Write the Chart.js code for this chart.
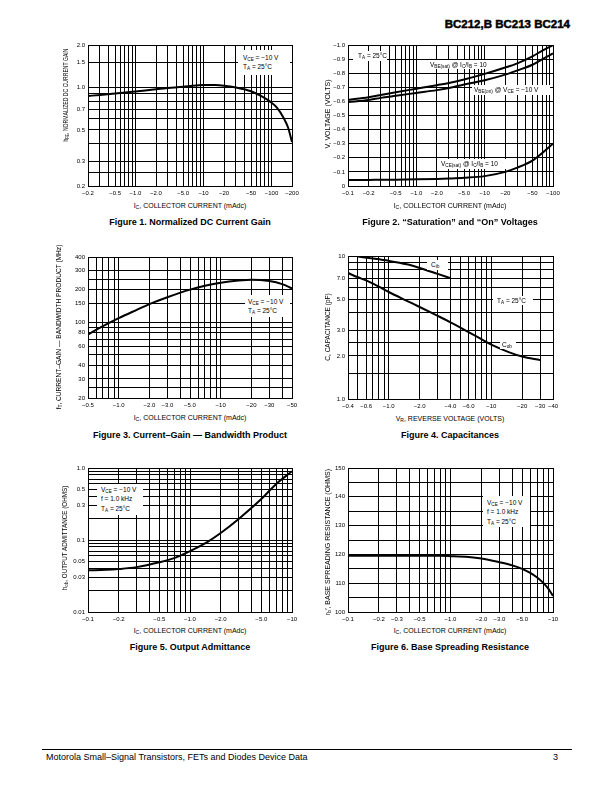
<!DOCTYPE html>
<html>
<head>
<meta charset="utf-8">
<script src="https://cdn.jsdelivr.net/npm/chart.js@4.4.1/dist/chart.umd.min.js"></script>
<style>
  body { margin: 0; width: 612px; height: 792px; position: relative; overflow: hidden; background: #fff; color: #000; font-family: "Liberation Sans", Arial, sans-serif; }
  canvas, .t, .note { position: absolute; }
  .t { white-space: nowrap; line-height: 1; }
  .xt { transform: translate(-50%, -50%); font-size: 7px; }
  .yt { transform: translate(-50%, -50%) rotate(-90deg); }
  .cap { transform: translate(-50%, -50%); font-size: 9px; font-weight: bold; }
  .note { background: #fff; font-size: 6.5px; line-height: 9.4px; white-space: nowrap; box-sizing: border-box; }
  sub { font-size: 0.72em; vertical-align: -0.3em; line-height: 0; }
  .head { right: 42px; top: 19px; font-size: 11.5px; font-weight: bold; -webkit-text-stroke: 0.5px #000; }
  .rule { left: 42px; top: 749px; width: 530px; height: 0; border-top: 1px solid #000; }
  .foot { top: 753px; font-size: 9px; }
</style>
</head>
<body>
<div class="t head">BC212,B BC213 BC214</div>

<canvas id="c1"></canvas>
<canvas id="c2"></canvas>
<canvas id="c3"></canvas>
<canvas id="c4"></canvas>
<canvas id="c5"></canvas>
<canvas id="c6"></canvas>

<!-- figure 1 -->
<div class="note" style="left:238px;top:50px;width:52px;height:25px;padding:3px 0 0 5px">V<sub>CE</sub> = −10 V<br>T<sub>A</sub> = 25°C</div>
<div class="t yt" style="left:66px;top:95px;font-size:6.4px;transform:translate(-50%,-50%) rotate(-90deg) scaleX(0.8)">h<sub>FE</sub>, NORMALIZED DC CURRENT GAIN</div>
<div class="t xt" style="left:190px;top:205px">I<sub>C</sub>, COLLECTOR CURRENT (mAdc)</div>
<div class="t cap" style="left:190px;top:222px">Figure 1. Normalized DC Current Gain</div>

<!-- figure 2 -->
<div class="note" style="left:353px;top:51px;width:34px;height:10px;padding:0 0 0 5px">T<sub>A</sub> = 25°C</div>
<div class="note" style="left:427px;top:60px;width:70px;height:9px;padding:0 0 0 3px">V<sub>BE(sat)</sub> @ I<sub>C</sub>/I<sub>B</sub> = 10</div>
<div class="note" style="left:472px;top:85px;width:78px;height:10px;padding:0 0 0 2px">V<sub>BE(on)</sub> @ V<sub>CE</sub> = −10 V</div>
<div class="note" style="left:438px;top:159px;width:72px;height:10px;padding:0 0 0 3px">V<sub>CE(sat)</sub> @ I<sub>C</sub>/I<sub>B</sub> = 10</div>
<div class="t yt" style="left:327px;top:114px;font-size:7px">V, VOLTAGE (VOLTS)</div>
<div class="t xt" style="left:450px;top:205px">I<sub>C</sub>, COLLECTOR CURRENT (mAdc)</div>
<div class="t cap" style="left:450px;top:222px">Figure 2. “Saturation” and “On” Voltages</div>

<!-- figure 3 -->
<div class="note" style="left:245px;top:295px;width:45px;height:22px;padding:2px 0 0 3px">V<sub>CE</sub> = −10 V<br>T<sub>A</sub> = 25°C</div>
<div class="t yt" style="left:59px;top:327px;font-size:6.6px">f<sub>T</sub>, CURRENT–GAIN — BANDWIDTH PRODUCT (MHz)</div>
<div class="t xt" style="left:190px;top:417px">I<sub>C</sub>, COLLECTOR CURRENT (mAdc)</div>
<div class="t cap" style="left:190px;top:435px">Figure 3. Current–Gain — Bandwidth Product</div>

<!-- figure 4 -->
<div class="note" style="left:427px;top:260px;width:21px;height:10px;padding:0 0 0 4px">C<sub>ib</sub></div>
<div class="note" style="left:493px;top:296px;width:40px;height:9px;padding:0 0 0 4px">T<sub>A</sub> = 25°C</div>
<div class="note" style="left:500px;top:340px;width:16px;height:9px;padding:0 0 0 2px">C<sub>ob</sub></div>
<div class="t yt" style="left:328px;top:327px;font-size:6.5px">C, CAPACITANCE (pF)</div>
<div class="t xt" style="left:450px;top:418px">V<sub>R</sub>, REVERSE VOLTAGE (VOLTS)</div>
<div class="t cap" style="left:450px;top:435px">Figure 4. Capacitances</div>

<!-- figure 5 -->
<div class="note" style="left:97px;top:484px;width:46px;height:31px;padding:1px 0 0 4px">V<sub>CE</sub> = −10 V<br>f = 1.0 kHz<br>T<sub>A</sub> = 25°C</div>
<div class="t yt" style="left:65px;top:538px;font-size:6.3px">h<sub>ob</sub>, OUTPUT ADMITTANCE (OHMS)</div>
<div class="t xt" style="left:190px;top:630px">I<sub>C</sub>, COLLECTOR CURRENT (mAdc)</div>
<div class="t cap" style="left:190px;top:647px">Figure 5. Output Admittance</div>

<!-- figure 6 -->
<div class="note" style="left:483px;top:496px;width:47px;height:31px;padding:2px 0 0 4px">V<sub>CE</sub> = −10 V<br>f = 1.0 kHz<br>T<sub>A</sub> = 25°C</div>
<div class="t yt" style="left:327px;top:542px;font-size:7px">r<sub>b</sub>′, BASE SPREADING RESISTANCE (OHMS)</div>
<div class="t xt" style="left:450px;top:630px">I<sub>C</sub>, COLLECTOR CURRENT (mAdc)</div>
<div class="t cap" style="left:450px;top:647px">Figure 6. Base Spreading Resistance</div>

<div class="t rule"></div>
<div class="t foot" style="left:46px">Motorola Small–Signal Transistors, FETs and Diodes Device Data</div>
<div class="t foot" style="left:553px">3</div>

<script>
// Figure 1 – normalized DC current gain vs collector current
const f1Ic = [0.2, 0.3, 0.5, 0.7, 1, 1.5, 2, 3, 5, 7, 10, 15, 20, 30, 50, 70, 100, 120, 150, 175, 200];
const f1Hfe = [0.87, 0.885, 0.905, 0.92, 0.935, 0.955, 0.97, 0.99, 1.01, 1.03, 1.04, 1.04, 1.03, 1.0, 0.94, 0.87, 0.78, 0.72, 0.61, 0.52, 0.41];
const f1XTicks = [0.2, 0.5, 1, 2, 5, 10, 20, 50, 100, 200];
const f1XLabels = ['−0.2', '−0.5', '−1.0', '−2.0', '−5.0', '−10', '−20', '−50', '−100', '−200'];
const f1YTicks = [0.2, 0.3, 0.5, 0.7, 1, 1.5, 2];
const f1YLabels = ['0.2', '0.3', '0.5', '0.7', '1.0', '1.5', '2.0'];
const f1YGrid = [0.2, 0.25, 0.3, 0.4, 0.5, 0.6, 0.7, 0.8, 0.9, 1, 1.5, 2];

// Figure 2 – saturation and on voltages (magnitudes, volts)
const f2Ic = [0.1, 0.2, 0.3, 0.5, 1, 2, 3, 5, 10, 20, 30, 50, 70, 100];
const f2VbeSat = [0.61, 0.63, 0.645, 0.665, 0.69, 0.715, 0.73, 0.755, 0.795, 0.84, 0.87, 0.92, 0.96, 1.0];
const f2VbeOn = [0.595, 0.61, 0.625, 0.64, 0.66, 0.68, 0.695, 0.72, 0.75, 0.79, 0.82, 0.86, 0.9, 0.94];
const f2VceSat = [0.042, 0.043, 0.044, 0.045, 0.047, 0.05, 0.053, 0.058, 0.07, 0.1, 0.13, 0.18, 0.235, 0.3];
const f2XTicks = [0.1, 0.2, 0.5, 1, 2, 5, 10, 20, 50, 100];
const f2XLabels = ['−0.1', '−0.2', '−0.5', '−1.0', '−2.0', '−5.0', '−10', '−20', '−50', '−100'];
const f2YTicks = [0, 0.1, 0.2, 0.3, 0.4, 0.5, 0.6, 0.7, 0.8, 0.9, 1.0];
const f2YLabels = ['0', '−0.1', '−0.2', '−0.3', '−0.4', '−0.5', '−0.6', '−0.7', '−0.8', '−0.9', '−1.0'];

// Figure 3 – current-gain bandwidth product (MHz)
const f3Ic = [0.5, 0.7, 1, 1.5, 2, 3, 5, 7, 10, 15, 20, 30, 40, 50];
const f3Ft = [77, 92, 109, 130, 147, 170, 200, 217, 232, 243, 247, 240, 225, 205];
const f3XTicks = [0.5, 1, 2, 3, 5, 10, 20, 30, 50];
const f3XLabels = ['−0.5', '−1.0', '−2.0', '−3.0', '−5.0', '−10', '−20', '−30', '−50'];
const f3YTicks = [20, 30, 40, 60, 80, 100, 150, 200, 300, 400];
const f3YLabels = ['20', '30', '40', '60', '80', '100', '150', '200', '300', '400'];
const f3YGrid = [20, 25, 30, 40, 50, 60, 70, 80, 90, 100, 150, 200, 250, 300, 400];

// Figure 4 – capacitances (pF) vs reverse voltage
const f4VrIb = [0.5, 0.7, 1, 1.5, 2, 3, 4];
const f4Cib = [9.9, 9.6, 9.25, 8.75, 8.25, 7.5, 7.0];
const f4VrOb = [0.4, 0.5, 0.6, 0.8, 1, 1.5, 2, 3, 4, 6, 8, 10, 15, 20, 30];
const f4Cob = [7.6, 7.1, 6.75, 6.1, 5.6, 4.86, 4.4, 3.81, 3.44, 2.94, 2.62, 2.4, 2.12, 1.98, 1.87];
const f4XTicks = [0.4, 0.6, 1, 2, 4, 6, 10, 20, 30, 40];
const f4XLabels = ['−0.4', '−0.6', '−1.0', '−2.0', '−4.0', '−6.0', '−10', '−20', '−30', '−40'];
const f4YTicks = [1, 2, 3, 5, 7, 10];
const f4YLabels = ['1.0', '2.0', '3.0', '5.0', '7.0', '10'];
const f4YGrid = [1, 1.5, 2, 2.5, 3, 4, 5, 6, 7, 8, 9, 10];

// Figure 5 – output admittance
const f5Ic = [0.1, 0.15, 0.2, 0.3, 0.5, 0.7, 1, 1.5, 2, 3, 5, 7, 10];
const f5Hob = [0.038, 0.0385, 0.0395, 0.042, 0.049, 0.056, 0.07, 0.095, 0.125, 0.196, 0.37, 0.6, 0.9];
const f5XTicks = [0.1, 0.2, 0.5, 1, 2, 5, 10];
const f5XLabels = ['−0.1', '−0.2', '−0.5', '−1.0', '−2.0', '−5.0', '−10'];
const f5YTicks = [0.01, 0.03, 0.05, 0.1, 0.3, 0.5, 1];
const f5YLabels = ['0.01', '0.03', '0.05', '0.1', '0.3', '0.5', '1.0'];

// Figure 6 – base spreading resistance (ohms)
const f6Ic = [0.1, 0.2, 0.5, 0.8, 1, 1.5, 2, 3, 4, 5, 6, 7, 8, 9, 10];
const f6Rb = [119.5, 119.5, 119.5, 119.5, 119.4, 119.1, 118.6, 117.3, 116.2, 115.0, 113.6, 112.0, 110.2, 108.1, 105.6];
const f6XTicks = [0.1, 0.2, 0.3, 0.5, 1, 2, 3, 5, 10];
const f6XLabels = ['−0.1', '−0.2', '−0.3', '−0.5', '−1.0', '−2.0', '−3.0', '−5.0', '−10'];
const f6YTicks = [100, 110, 120, 130, 140, 150];
const f6YLabels = ['100', '110', '120', '130', '140', '150'];
const f6YGrid = [100, 105, 110, 115, 120, 125, 130, 135, 140, 145, 150];

// 1..9 per decade grid between lo and hi
function logGrid(lo, hi) {
  const out = [];
  for (let e = -3; e <= 3; e++) {
    for (let m = 1; m <= 9; m++) {
      const v = +(m * Math.pow(10, e)).toPrecision(6);
      if (v >= lo * 0.9999 && v <= hi * 1.0001) out.push(v);
    }
  }
  return out;
}

Chart.defaults.font.family = '"Liberation Sans", Arial, sans-serif';
Chart.defaults.color = '#000';

const PAD_L = 30, PAD_T = 6, PAD_R = 14, PAD_B = 14;

function labeler(vals, labels) {
  return v => {
    const i = vals.findIndex(t => Math.abs(t - v) <= 1e-6 * Math.max(1, Math.abs(t)));
    return i < 0 ? '' : labels[i];
  };
}

function axis(type, min, max, grid, vals, labels, isX) {
  return {
    type, min, max, bounds: 'data',
    afterBuildTicks: s => { s.ticks = grid.map(v => ({ value: v })); },
    afterFit: s => {
      if (isX) s.height = PAD_B - 2; else s.width = PAD_L - 2;
      s.paddingLeft = s.paddingRight = s.paddingTop = s.paddingBottom = 0;
    },
    grid: { color: '#000', lineWidth: 1, drawTicks: false },
    border: { color: '#000', width: 1 },
    ticks: {
      autoSkip: false, maxRotation: 0, minRotation: 0,
      padding: isX ? 4 : 3,
      font: { size: 6 },
      callback: labeler(vals, labels)
    }
  };
}

function series(xs, ys) {
  return {
    data: xs.map((x, i) => ({ x, y: ys[i] })),
    borderColor: '#000', borderWidth: 2, pointRadius: 0,
    cubicInterpolationMode: 'monotone', fill: false
  };
}

function plot(id, box, datasets, x, y) {
  const c = document.getElementById(id);
  c.width = box.w + PAD_L + PAD_R;
  c.height = box.h + PAD_T + PAD_B;
  c.style.left = (box.x - PAD_L) + 'px';
  c.style.top = (box.y - PAD_T) + 'px';
  new Chart(c, {
    type: 'line',
    data: { datasets },
    options: {
      responsive: false, animation: false, devicePixelRatio: 1, events: [],
      layout: { padding: { left: 2, top: PAD_T, right: PAD_R, bottom: 2 } },
      plugins: { legend: { display: false }, tooltip: { enabled: false } },
      scales: { x, y }
    }
  });
}

plot('c1', { x: 88, y: 45, w: 204, h: 141 },
  [series(f1Ic, f1Hfe)],
  axis('logarithmic', 0.2, 200, logGrid(0.2, 200), f1XTicks, f1XLabels, true),
  axis('logarithmic', 0.2, 2, f1YGrid, f1YTicks, f1YLabels, false));

plot('c2', { x: 348, y: 45, w: 205, h: 141 },
  [series(f2Ic, f2VbeSat), series(f2Ic, f2VbeOn), series(f2Ic, f2VceSat)],
  axis('logarithmic', 0.1, 100, logGrid(0.1, 100), f2XTicks, f2XLabels, true),
  axis('linear', 0, 1, f2YTicks, f2YTicks, f2YLabels, false));

plot('c3', { x: 88, y: 257, w: 204, h: 141 },
  [series(f3Ic, f3Ft)],
  axis('logarithmic', 0.5, 50, logGrid(0.5, 50), f3XTicks, f3XLabels, true),
  axis('logarithmic', 20, 400, f3YGrid, f3YTicks, f3YLabels, false));

plot('c4', { x: 348, y: 256, w: 205, h: 143 },
  [series(f4VrIb, f4Cib), series(f4VrOb, f4Cob)],
  axis('logarithmic', 0.4, 40, logGrid(0.4, 40), f4XTicks, f4XLabels, true),
  axis('logarithmic', 1, 10, f4YGrid, f4YTicks, f4YLabels, false));

plot('c5', { x: 88, y: 468, w: 204, h: 144 },
  [series(f5Ic, f5Hob)],
  axis('logarithmic', 0.1, 10, logGrid(0.1, 10), f5XTicks, f5XLabels, true),
  axis('logarithmic', 0.01, 1, logGrid(0.01, 1), f5YTicks, f5YLabels, false));

plot('c6', { x: 348, y: 468, w: 205, h: 144 },
  [series(f6Ic, f6Rb)],
  axis('logarithmic', 0.1, 10, logGrid(0.1, 10), f6XTicks, f6XLabels, true),
  axis('linear', 100, 150, f6YGrid, f6YTicks, f6YLabels, false));
</script>
</body>
</html>
